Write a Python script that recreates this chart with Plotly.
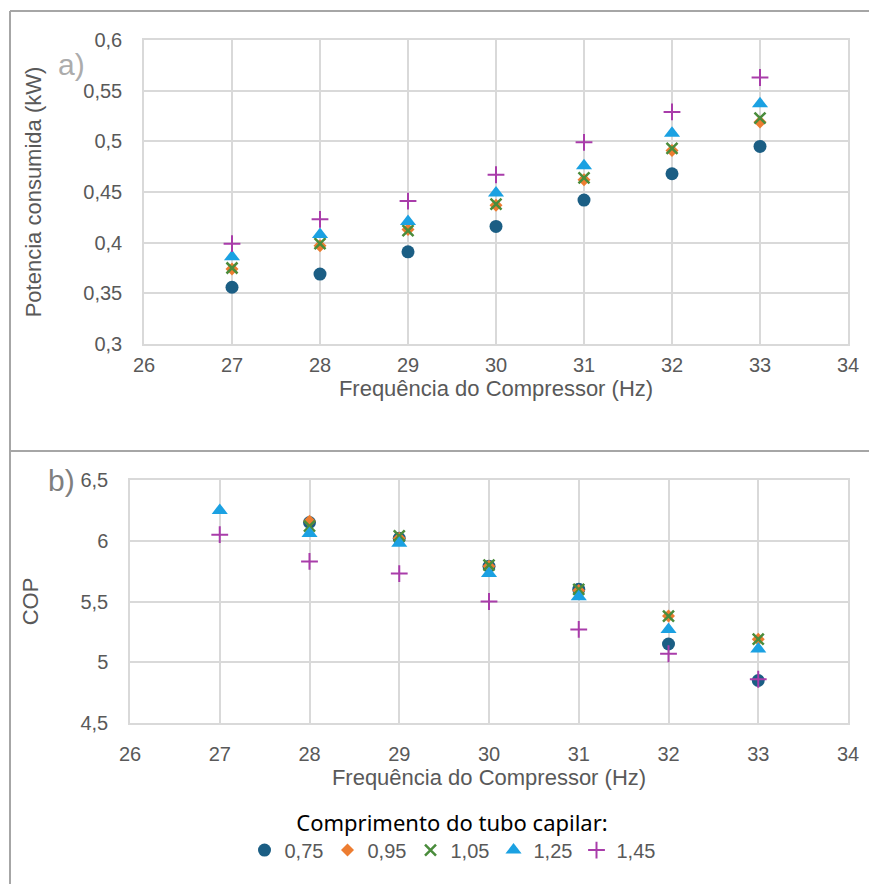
import plotly.graph_objects as go
from plotly.subplots import make_subplots

freq = [27, 28, 29, 30, 31, 32, 33]
lengths = ["0,75", "0,95", "1,05", "1,25", "1,45"]

# potencia consumida (kW)
pot_075 = [0.356, 0.369, 0.391, 0.416, 0.442, 0.468, 0.495]
pot_095 = [0.374, 0.397, 0.413, 0.437, 0.462, 0.491, 0.519]
pot_105 = [0.375, 0.399, 0.412, 0.438, 0.464, 0.493, 0.523]
pot_125 = [0.386, 0.408, 0.421, 0.449, 0.476, 0.508, 0.537]
pot_145 = [0.399, 0.423, 0.441, 0.467, 0.499, 0.529, 0.563]

# COP
cop_075 = [None, 6.15, 6.02, 5.79, 5.60, 5.15, 4.85]
cop_095 = [None, 6.16, 6.02, 5.79, 5.59, 5.38, 5.19]
cop_105 = [None, 6.12, 6.04, 5.80, 5.60, 5.38, 5.19]
cop_125 = [6.25, 6.06, 5.98, 5.73, 5.54, 5.27, 5.11]
cop_145 = [6.05, 5.83, 5.73, 5.50, 5.27, 5.07, 4.86]

pot = [pot_075, pot_095, pot_105, pot_125, pot_145]
cop = [cop_075, cop_095, cop_105, cop_125, cop_145]

colors = ["#1b5e84", "#ed7d31", "#4a8c3c", "#1ba1e2", "#a93caa"]
symbols = ["circle", "diamond", "x-thin", "triangle-up", "cross-thin"]
sizes = [13, 10, 11, 14, 12]
widths = [0, 0, 2.5, 0, 2]

W, H = 877, 884
OFF = 8  # page body margin


def px(x):
    return (x - OFF) / W


def py(y):
    return 1 - (y - OFF) / H


fig = make_subplots(rows=2, cols=1)

for i, name in enumerate(lengths):
    marker = dict(symbol=symbols[i], size=sizes[i], color=colors[i],
                  line=dict(color=colors[i], width=widths[i]))
    fig.add_trace(go.Scatter(x=freq, y=pot[i], mode="markers", name=name,
                             marker=marker, legendgroup=name), row=1, col=1)
    fig.add_trace(go.Scatter(x=freq, y=cop[i], mode="markers", name=name,
                             marker=marker, legendgroup=name, showlegend=False), row=2, col=1)

grid = "#d9d9d9"
font = "Liberation Sans, Arial"
tickfont = dict(family=font, size=20, color="#595959")
titlefont = dict(family=font, size=22, color="#595959")

axis_common = dict(showgrid=True, gridcolor=grid, gridwidth=1.5, showline=True,
                   linecolor=grid, linewidth=1.5, mirror=True, zeroline=False,
                   ticks="", tickfont=tickfont, automargin=False)

fig.update_xaxes(range=[26, 34], dtick=1, title_text="Frequência do Compressor (Hz)",
                 title_font=titlefont, title_standoff=4, **axis_common)
fig.update_xaxes(domain=[px(144), px(848)], ticklabelstandoff=2, row=1, col=1)
fig.update_xaxes(domain=[px(130), px(848)], ticklabelstandoff=12, row=2, col=1)

fig.update_yaxes(ticklabelstandoff=16, title_standoff=36, **axis_common)
fig.update_yaxes(range=[0.3, 0.6], dtick=0.05, domain=[py(344), py(40)],
                 title_text="Potencia consumida (kW)", title_font=titlefont,
                 row=1, col=1)
fig.update_yaxes(range=[4.5, 6.5], dtick=0.5, domain=[py(723), py(480)],
                 title_text="COP", title_font=titlefont, row=2, col=1)

frame = dict(type="line", xref="paper", yref="paper", line=dict(color="#a6a6a6", width=2))
fig.add_shape(x0=px(10), x1=1, y0=py(11), y1=py(11), **frame)
fig.add_shape(x0=px(10), x1=1, y0=py(451), y1=py(451), **frame)
fig.add_shape(x0=px(10), x1=px(10), y0=0, y1=py(11), **frame)

fig.add_annotation(text="a)", x=px(56), y=py(46), xref="paper", yref="paper",
                   showarrow=False, font=dict(family=font, size=30, color="#acacac"))
fig.add_annotation(text="b)", x=px(46), y=py(480), xref="paper", yref="paper",
                   showarrow=False, font=dict(family=font, size=30, color="#7f7f7f"))

fig.update_layout(
    width=W, height=H,
    margin=dict(l=0, r=0, t=0, b=0),
    plot_bgcolor="white", paper_bgcolor="white",
    separators=", ",
    showlegend=True,
    legend=dict(orientation="h", x=px(452), xanchor="center", y=py(802), yanchor="top",
                title=dict(text="Comprimento do tubo capilar:", side="top center",
                           font=dict(family="Noto Sans", size=22, color="black")),
                font=dict(family=font, size=20, color="#595959"),
                itemwidth=30, entrywidth=38, tracegroupgap=0),
)

fig.write_html("out.html")
